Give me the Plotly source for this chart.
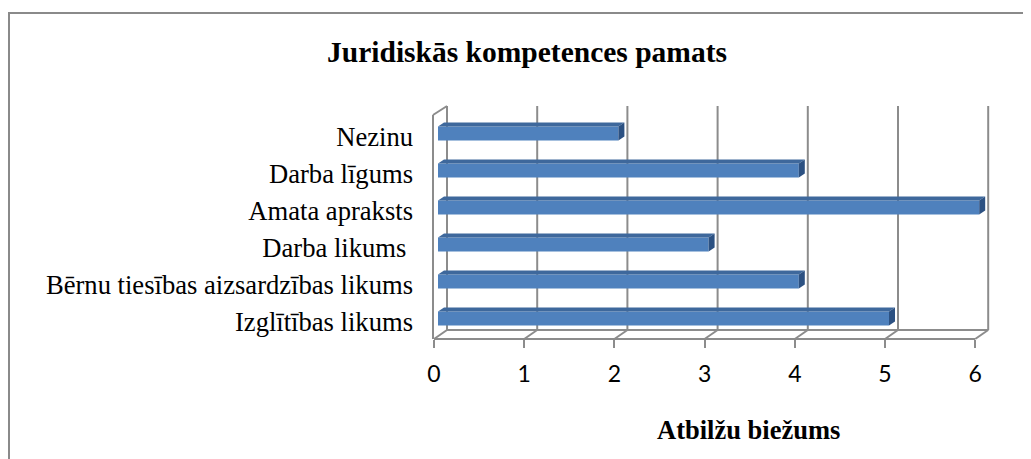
import plotly.graph_objects as go

# ---- data (bottom to top) ----
categories = ["Izglītības likums", "Bērnu tiesības aizsardzības likums", "Darba likums\u00a0",
              "Amata apraksts", "Darba līgums", "Nezinu"]
values = [5, 4, 3, 6, 4, 2]
xticks = [0, 1, 2, 3, 4, 5, 6]
title_text = "Juridiskās kompetences pamats"
xtitle_text = "Atbilžu biežums"

W, H = 1031, 459
OFF = 8  # page body margin compensation


def fx(p):  # page pixel column -> paper x
    return (p - OFF) / W


def py(p):  # page pixel row -> paper y
    return 1 - (p - OFF) / H


positions = list(range(len(categories)))

# geometry (page pixels)
PX_PER_UNIT = 90.2
X0_PX = 438
XL_PX, XR_PX = 418, 1005
Y_TOP_PX, Y_BOT_PX = 100, 345
ROW_PX = 37.0
ROW0_PX = 321.5
y_range = [(ROW0_PX - Y_BOT_PX) / ROW_PX, (ROW0_PX - Y_TOP_PX) / ROW_PX]
x_range = [(XL_PX - X0_PX) / PX_PER_UNIT, (XR_PX - X0_PX) / PX_PER_UNIT]

bar_w = 14 / ROW_PX
bar_off = -4 / ROW_PX
dx = 6 / PX_PER_UNIT
dy = 4 / ROW_PX

front_c = "#4F81BD"
top_c = "#3E689C"
cap_c = "#2C5182"
grid_c = "#8C8C8C"

fig = go.Figure()

fig.add_trace(go.Bar(
    orientation="h", x=values, y=positions, width=bar_w, offset=bar_off,
    marker=dict(color=front_c, line=dict(width=0)), hoverinfo="skip", showlegend=False,
))

# top faces and end caps, derived from the values
for p, v in zip(positions, values):
    top = p + bar_off + bar_w
    bot = p + bar_off
    fig.add_trace(go.Scatter(
        x=[0, v, v + dx, dx, 0], y=[top, top, top + dy, top + dy, top],
        fill="toself", fillcolor=top_c, mode="lines", line=dict(width=0),
        hoverinfo="skip", showlegend=False))
    fig.add_trace(go.Scatter(
        x=[v, v, v + dx, v + dx, v], y=[bot, top, top + dy, bot + dy, bot],
        fill="toself", fillcolor=cap_c, mode="lines", line=dict(width=0),
        hoverinfo="skip", showlegend=False))

# invisible trace on the front axis so it renders
fig.add_trace(go.Scatter(x=[xticks[0], xticks[-1]], y=[0, 0], xaxis="x2", yaxis="y",
                         mode="markers", marker=dict(opacity=0), hoverinfo="skip",
                         showlegend=False))

shapes = []
line = dict(color=grid_c, width=2)
back_off = 9 / PX_PER_UNIT
front_off = -4 / PX_PER_UNIT
for v in xticks:
    # back wall gridlines
    shapes.append(dict(type="line", xref="x", yref="paper", x0=v + back_off, x1=v + back_off,
                       y0=py(106), y1=py(330), line=line, layer="below"))
    # floor diagonals
    shapes.append(dict(type="line", xref="x", yref="paper", x0=v + front_off, x1=v + back_off,
                       y0=py(339), y1=py(330), line=line, layer="below"))
# floor back line
shapes.append(dict(type="line", xref="x", yref="paper", x0=xticks[0] + back_off,
                   x1=xticks[-1] + back_off, y0=py(330), y1=py(330), line=line, layer="below"))
# left wall front edge and top diagonal
lw = -5 / PX_PER_UNIT
shapes.append(dict(type="line", xref="x", yref="paper", x0=lw, x1=lw,
                   y0=py(339), y1=py(115), line=line, layer="below"))
shapes.append(dict(type="line", xref="x", yref="paper", x0=lw, x1=back_off,
                   y0=py(115), y1=py(106), line=line, layer="below"))
# outer frame
shapes.append(dict(type="rect", xref="paper", yref="paper", x0=1 / W, x1=1.02,
                   y0=py(13), y1=-0.05, line=dict(color="#8A8A8A", width=2)))

fig.update_layout(
    width=W, height=H,
    margin=dict(l=0, r=0, t=0, b=0, autoexpand=False),
    paper_bgcolor="white", plot_bgcolor="rgba(0,0,0,0)",
    title=dict(text="<b>" + title_text + "</b>", x=fx(527), y=py(52), xanchor="center",
               yanchor="middle", automargin=False,
               font=dict(family="Liberation Serif", size=29.5, color="black")),
    xaxis=dict(domain=[fx(XL_PX), fx(XR_PX)], range=x_range, automargin=False,
               showgrid=False, zeroline=False, showticklabels=False, showline=False,
               fixedrange=True),
    xaxis2=dict(domain=[fx(434), fx(434 + 6 * PX_PER_UNIT)], range=[0, 6],
                anchor="free", position=py(339), showgrid=False, zeroline=False,
                automargin=False,
                showline=True, linecolor=grid_c, linewidth=2,
                ticks="outside", ticklen=8, tickwidth=2, tickcolor=grid_c,
                tickvals=xticks, ticktext=[str(t) for t in xticks],
                tickfont=dict(family="Lato", size=23, color="black"),
                ticklabelstandoff=6),
    yaxis=dict(domain=[py(Y_BOT_PX), py(Y_TOP_PX)], range=y_range,
               anchor="free", position=fx(433), automargin=False,
               tickvals=positions, ticktext=categories, showgrid=False, zeroline=False,
               showline=False, ticks="",
               tickfont=dict(family="Liberation Serif", size=26.6, color="black"),
               ticklabelstandoff=20),
    shapes=shapes,
    annotations=[dict(text="<b>" + xtitle_text + "</b>", xref="paper", yref="paper",
                      x=fx(748), y=py(430), xanchor="center", yanchor="middle",
                      showarrow=False,
                      font=dict(family="Liberation Serif", size=26.5, color="black"))],
)

fig.write_html("out.html")
